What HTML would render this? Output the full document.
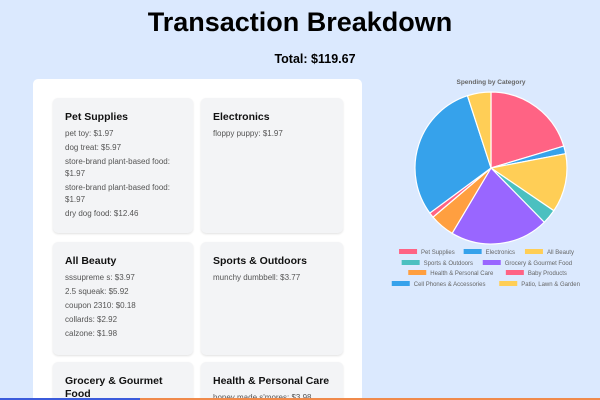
<!DOCTYPE html>
<html style="width:600px;height:400px;overflow:hidden"><head><meta charset="utf-8"><style>
body{margin:0;width:600px;height:400px;overflow:hidden;background:#dbe9fe;font-family:"Liberation Sans",sans-serif;position:relative}
h1{position:absolute;top:0;left:0;width:600px;text-align:center;margin:0;font-size:27px;line-height:44px;font-weight:bold;color:#000}
.total{position:absolute;top:52px;left:0;width:630px;text-align:center;font-size:12.5px;font-weight:bold}
.panel{position:absolute;left:33px;top:79px;width:329px;height:321px;background:#fff;border-radius:5px 5px 0 0;overflow:hidden}
.card{position:absolute;background:#f3f4f6;border-radius:5px;box-shadow:0 1px 2px rgba(0,0,0,.12);width:140px;box-sizing:border-box;padding:13px 12px;overflow:hidden}
.card h3{margin:0 0 4px;font-size:10.5px;color:#111;font-weight:bold;line-height:13px}
.card p{margin:0 0 2px;font-size:8px;line-height:12px;color:#555}
.bar{position:absolute;top:398px;height:2px;left:0;width:600px;background:#f08a4b}
</style></head><body>
<h1>Transaction Breakdown</h1>
<div class="total">Total: $119.67</div>
<div class="panel">
<div class="card" style="left:20px;top:19px;height:135px"><h3>Pet Supplies</h3><p>pet toy: $1.97</p><p>dog treat: $5.97</p><p>store-brand plant-based food: $1.97</p><p>store-brand plant-based food: $1.97</p><p>dry dog food: $12.46</p></div>
<div class="card" style="left:168px;top:19px;height:135px;width:142px"><h3>Electronics</h3><p>floppy puppy: $1.97</p></div>
<div class="card" style="left:20px;top:163px;height:113px"><h3>All Beauty</h3><p>sssupreme s: $3.97</p><p>2.5 squeak: $5.92</p><p>coupon 2310: $0.18</p><p>collards: $2.92</p><p>calzone: $1.98</p></div>
<div class="card" style="left:168px;top:163px;height:113px;width:142px"><h3>Sports &amp; Outdoors</h3><p>munchy dumbbell: $3.77</p></div>
<div class="card" style="left:20px;top:283px;height:38px;border-radius:5px 5px 0 0"><h3>Grocery &amp; Gourmet Food</h3></div>
<div class="card" style="left:168px;top:283px;height:38px;width:142px;border-radius:5px 5px 0 0"><h3>Health &amp; Personal Care</h3><p>honey made s'mores: $3.98</p></div>
</div>
<svg id="chart" style="position:absolute;left:390px;top:70px" width="210" height="230"></svg>
<div class="bar"><div style="width:140px;height:2px;background:#3b5bdb"></div></div>
<script>
const categories=["Pet Supplies","Electronics","All Beauty","Sports & Outdoors","Grocery & Gourmet Food","Health & Personal Care","Baby Products","Cell Phones & Accessories","Patio, Lawn & Garden"];
const values=[24.34,1.97,14.97,3.77,25,6.3,1.3,36,6];
const colors=["#ff6384","#36a2eb","#ffce56","#4bc0c0","#9966ff","#ff9f40","#ff6384","#36a2eb","#ffce56"];
const ns="http://www.w3.org/2000/svg";
const svg=document.getElementById('chart');
const cx=101,cy=98,r=76;
const t=document.createElementNS(ns,'text');
t.setAttribute('x',cx);t.setAttribute('y',14);t.setAttribute('text-anchor','middle');t.setAttribute('font-size','6.5');t.setAttribute('font-weight','bold');t.setAttribute('fill','#666');t.setAttribute('font-family','Liberation Sans, sans-serif');
t.textContent='Spending by Category';


svg.appendChild(t);
const sum=values.reduce((a,b)=>a+b,0);
let a0=-Math.PI/2;
values.forEach((v,i)=>{
 const a1=a0+v/sum*2*Math.PI;
 const large=(a1-a0)>Math.PI?1:0;
 const p=document.createElementNS(ns,'path');
 p.setAttribute('d',`M${cx},${cy}L${cx+r*Math.cos(a0)},${cy+r*Math.sin(a0)}A${r},${r} 0 ${large} 1 ${cx+r*Math.cos(a1)},${cy+r*Math.sin(a1)}Z`);
 p.setAttribute('fill',colors[i]);p.setAttribute('stroke','#fff');p.setAttribute('stroke-width','1.2');
 
 
 svg.appendChild(p);
 a0=a1;
});
const rows=[[0,1,2],[3,4],[5,6],[7,8]];
const rowY=[182,193,203,214];
rows.forEach((row,ri)=>{
 const widths=row.map(i=>categories[i].length*3.3+25);
 const tot=widths.reduce((a,b)=>a+b,0);
 let x=cx-tot/2;
 row.forEach((i,k)=>{
  const g=document.createElementNS(ns,'g');
  
  
  const rc=document.createElementNS(ns,'rect');
  rc.setAttribute('x',x);rc.setAttribute('y',rowY[ri]-3);rc.setAttribute('width',18);rc.setAttribute('height',5);rc.setAttribute('fill',colors[i]);
  g.appendChild(rc);
  const tx=document.createElementNS(ns,'text');
  tx.setAttribute('x',x+22);tx.setAttribute('y',rowY[ri]+2);tx.setAttribute('font-size','6');tx.setAttribute('fill','#666');tx.setAttribute('font-family','Liberation Sans, sans-serif');
  tx.textContent=categories[i];
  g.appendChild(tx);
  svg.appendChild(g);
  x+=widths[k];
 });
});
</script>
</body></html>
